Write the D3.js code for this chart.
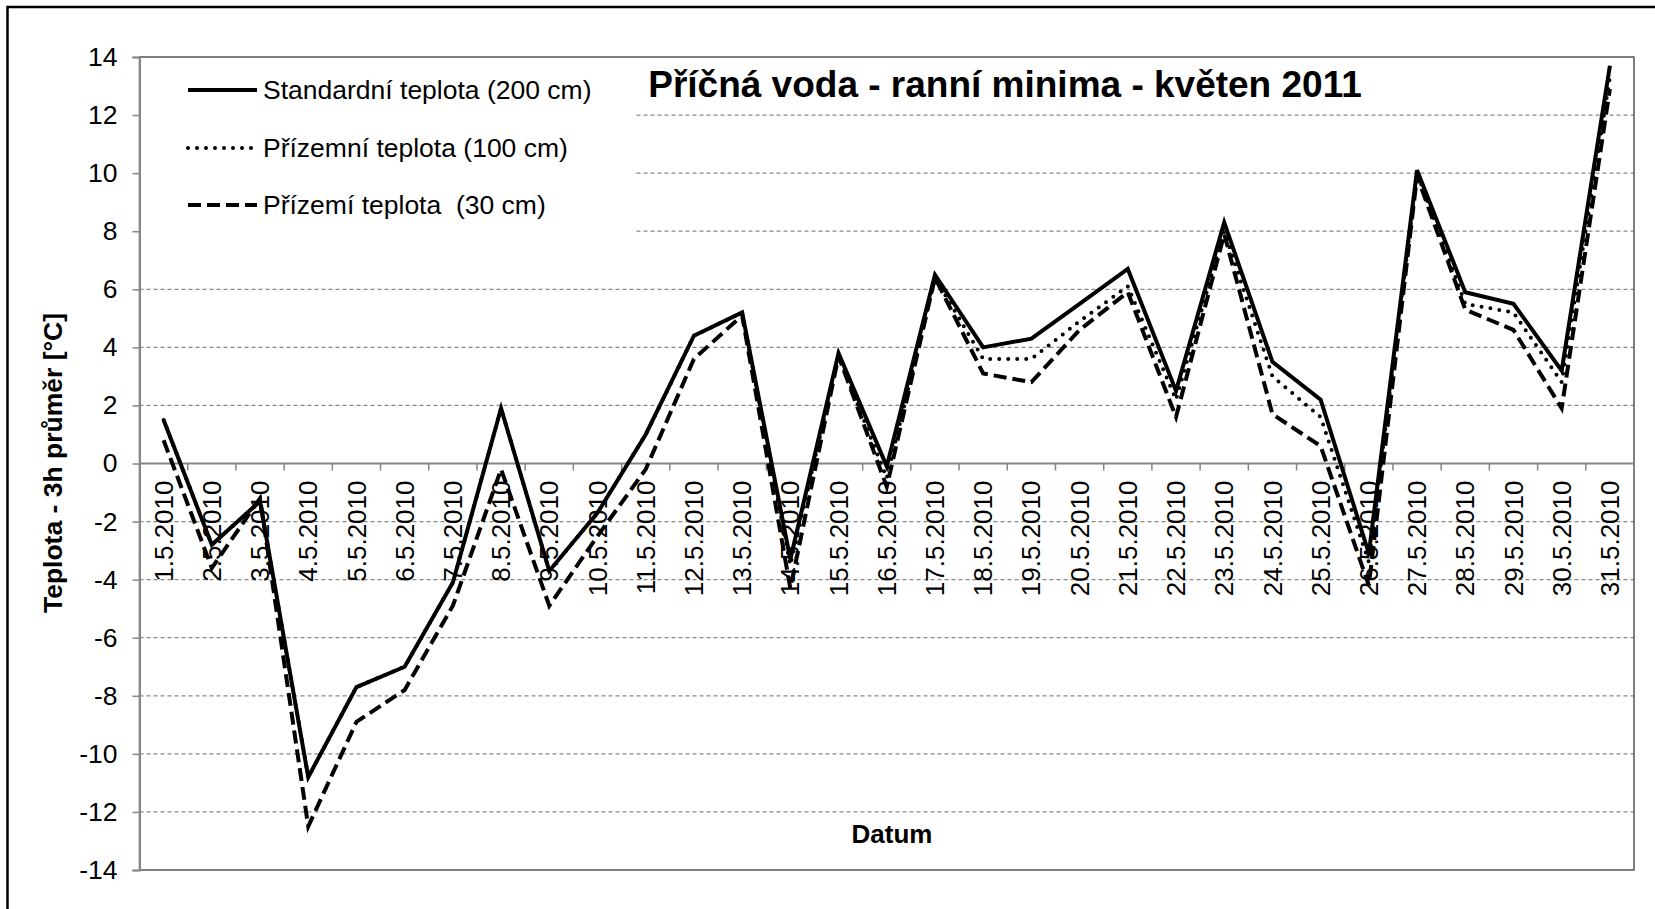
<!DOCTYPE html>
<html><head><meta charset="utf-8">
<script src="https://cdn.jsdelivr.net/npm/d3@7"></script>
<style>
body{margin:0;background:#fff}
svg{display:block}
text{font-family:"Liberation Sans",Arial,sans-serif;fill:#000}
</style>
</head><body>
<svg id="chart" width="1655" height="909"></svg>
<script>
const categories = ["1.5.2010","2.5.2010","3.5.2010","4.5.2010","5.5.2010","6.5.2010","7.5.2010","8.5.2010","9.5.2010","10.5.2010","11.5.2010","12.5.2010","13.5.2010","14.5.2010","15.5.2010","16.5.2010","17.5.2010","18.5.2010","19.5.2010","20.5.2010","21.5.2010","22.5.2010","23.5.2010","24.5.2010","25.5.2010","26.5.2010","27.5.2010","28.5.2010","29.5.2010","30.5.2010","31.5.2010"];
const standard200 = [1.5,-2.8,-1.3,-10.8,-7.7,-7.0,-4.1,1.9,-3.7,-1.7,1.0,4.4,5.2,-3.3,3.8,-0.1,6.5,4.0,4.3,5.5,6.7,2.5,8.3,3.5,2.2,-3.1,10.1,5.9,5.5,3.2,13.7];
const ground100 = [1.5,-2.8,-1.3,-10.8,-7.7,-7.0,-4.1,1.9,-3.7,-1.7,1.0,4.4,5.2,-3.5,3.7,-0.5,6.4,3.6,3.6,4.9,6.1,2.2,8.0,3.0,1.6,-3.4,10.0,5.5,5.2,2.8,13.3];
const ground30 = [0.8,-3.6,-1.2,-12.5,-8.9,-7.8,-4.9,-0.2,-4.9,-2.5,-0.2,3.6,5.1,-4.3,3.7,-0.8,6.4,3.1,2.8,4.6,5.9,1.6,7.9,1.7,0.6,-4.2,9.9,5.3,4.6,1.9,12.9];
const yTicks = [-14,-12,-10,-8,-6,-4,-2,0,2,4,6,8,10,12,14];
const seriesNames = ["Standardní teplota (200 cm)","Přízemní teplota (100 cm)","Přízemí teplota  (30 cm)"];
const chartTitle = "Příčná voda - ranní minima - květen 2011";
const yTitle = "Teplota - 3h průměr [°C]";
const xTitle = "Datum";

const svg = d3.select("#chart");
const m = {left:139.5, right:1634, top:57, bottom:870};
const x = d3.scaleBand().domain(categories).range([m.left, m.right]);
const y = d3.scaleLinear().domain([-14, 14]).range([m.bottom, m.top]);
const bw = x.bandwidth();
const cx = c => x(c) + bw / 2;

// outer border
svg.append("rect").attr("x",7.5).attr("y",7).attr("width",1700).attr("height",1000)
  .attr("fill","none").attr("stroke","#000").attr("stroke-width",2.5);

// gridlines
svg.append("g").selectAll("line").data(yTicks.filter(v => v !== 0 && v !== -14 && v !== 14)).join("line")
  .attr("x1", m.left).attr("x2", m.right)
  .attr("y1", d => y(d)).attr("y2", d => y(d))
  .attr("stroke","#888").attr("stroke-width",1.3).attr("stroke-dasharray","4,3");

// plot border
svg.append("rect").attr("x",m.left).attr("y",m.top).attr("width",m.right-m.left).attr("height",m.bottom-m.top)
  .attr("fill","none").attr("stroke","#555").attr("stroke-width",1.5);

// legend background (covers gridlines)
svg.append("rect").attr("x",m.left+1).attr("y",m.top+1).attr("width",636-m.left-1).attr("height",205)
  .attr("fill","#fff");

// y axis
const yAxis = svg.append("g").attr("transform",`translate(${m.left},0)`)
  .call(d3.axisLeft(y).tickValues(yTicks).tickSize(7).tickPadding(15).tickFormat(d => String(d)));
yAxis.select(".domain").attr("stroke","#868686").attr("stroke-width",2);
yAxis.selectAll(".tick line").attr("stroke","#868686").attr("stroke-width",1.5);
yAxis.selectAll(".tick text").attr("font-size",26.5).attr("font-family","Liberation Sans, Arial, sans-serif").attr("fill","#000");

// x axis at zero
const xg = svg.append("g");
xg.append("line").attr("x1",m.left).attr("x2",m.right).attr("y1",y(0)).attr("y2",y(0))
  .attr("stroke","#868686").attr("stroke-width",2);
xg.selectAll("line.tk").data(categories).join("line").attr("class","tk")
  .attr("x1", d => x(d) + bw).attr("x2", d => x(d) + bw)
  .attr("y1", y(0)).attr("y2", y(0) + 7)
  .attr("stroke","#868686").attr("stroke-width",1.5);
xg.selectAll("text").data(categories).join("text")
  .attr("transform", d => `translate(${cx(d)},${y(0) + 17}) rotate(-90)`)
  .attr("text-anchor","end").attr("dy","0.35em").attr("font-size",26)
  .text(d => d);

// series
const line = d3.line().x((d, i) => cx(categories[i])).y(d => y(d));
const styles = [
  {data: standard200, dash: null, cap: "butt"},
  {data: ground100, dash: "0,9", cap: "round"},
  {data: ground30, dash: "13,6", cap: "butt"}
];
styles.forEach(s => {
  svg.append("path").datum(s.data).attr("d", line)
    .attr("fill","none").attr("stroke","#000").attr("stroke-width",4)
    .attr("stroke-linejoin","miter").attr("stroke-miterlimit",4)
    .attr("stroke-linecap", s.cap)
    .attr("stroke-dasharray", s.dash);
});

// legend
const legY = [90, 148, 205];
seriesNames.forEach((name, i) => {
  svg.append("line").attr("x1",188).attr("x2", i === 1 ? 252 : 257).attr("y1",legY[i]).attr("y2",legY[i])
    .attr("stroke","#000").attr("stroke-width",4)
    .attr("stroke-linecap", styles[i].cap).attr("stroke-dasharray", styles[i].dash);
  svg.append("text").attr("x",263).attr("y",legY[i]).attr("dy","0.35em")
    .attr("font-size",26.5).style("white-space","pre").text(name);
});

// titles
svg.append("text").attr("x",1005).attr("y",97).attr("text-anchor","middle")
  .attr("font-size",37).attr("font-weight","bold").text(chartTitle);
svg.append("text").attr("transform","translate(53,463) rotate(-90)").attr("text-anchor","middle")
  .attr("dy","0.35em").attr("font-size",26.5).attr("font-weight","bold").text(yTitle);
svg.append("text").attr("x",892).attr("y",843).attr("text-anchor","middle")
  .attr("font-size",26).attr("font-weight","bold").text(xTitle);
</script>
</body></html>
